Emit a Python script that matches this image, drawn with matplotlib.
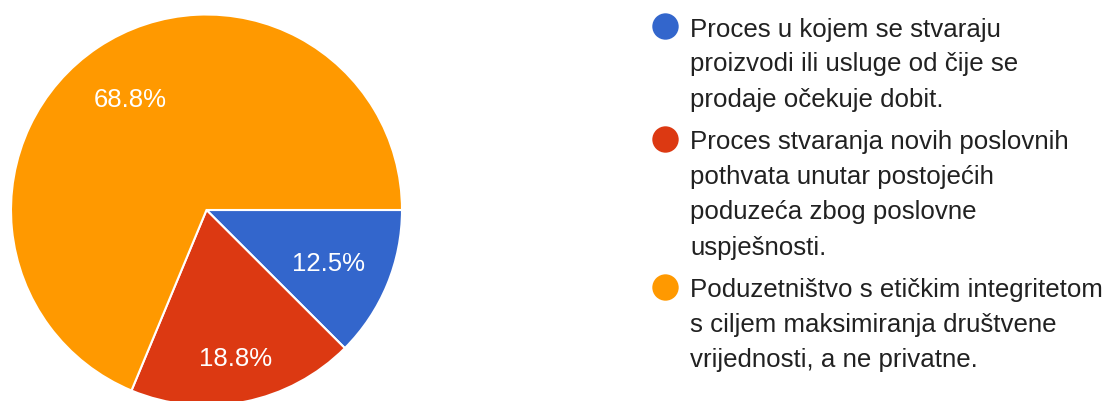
import matplotlib
matplotlib.use("Agg")
import matplotlib.pyplot as plt
import numpy as np

plt.rcParams['font.family'] = ['Liberation Sans', 'DejaVu Sans']

# data
shares = [12.5, 18.8, 68.8]
colors = ['#3366CC', '#DC3912', '#FF9900']
legend_lines = [
    ["Proces u kojem se stvaraju", "proizvodi ili usluge od čije se", "prodaje očekuje dobit."],
    ["Proces stvaranja novih poslovnih", "pothvata unutar postojećih",
     "poduzeća zbog poslovne", "uspješnosti."],
    ["Poduzetništvo s etičkim integritetom", "s ciljem maksimiranja društvene",
     "vrijednosti, a ne privatne."],
]
label_dist = [0.675, 0.76, 0.70]

W, H = 1112, 402
fig = plt.figure(figsize=(W / 100, H / 100), dpi=100)

# pie axes, positioned in pixels (center 206.5, 211; radius 195.5)
cx, cy, r = 206.5, 211, 195.5
ax = fig.add_axes([(cx - r) / W, (H - cy - r) / H, 2 * r / W, 2 * r / H])
wedges, texts = ax.pie(
    shares, colors=colors, startangle=0, counterclock=False, radius=1,
    wedgeprops=dict(edgecolor='white', linewidth=1.5))
for w, s, d in zip(wedges, shares, label_dist):
    mid = np.deg2rad((w.theta1 + w.theta2) / 2)
    ax.text(d * np.cos(mid), d * np.sin(mid), f"{s}%", color='white',
            fontsize=18.5, ha='center', va='center_baseline')
ax.set_xlim(-1, 1)
ax.set_ylim(-1, 1)
ax.set_aspect('equal')
ax.axis('off')

# legend drawn in a pixel-coordinate overlay
lg = fig.add_axes([0, 0, 1, 1])
lg.set_xlim(0, W)
lg.set_ylim(H, 0)
lg.axis('off')

y = 36.5
for color, lines in zip(colors, legend_lines):
    lg.plot(665, y - 9.5, 'o', color=color, markersize=19, markeredgewidth=0)
    for i, line in enumerate(lines):
        lg.text(690, y + i * 35, line, fontsize=18.6, color='#212121',
                ha='left', va='baseline')
    y += (len(lines) - 1) * 35 + 43

fig.savefig('out.png', dpi=100, facecolor='white')
